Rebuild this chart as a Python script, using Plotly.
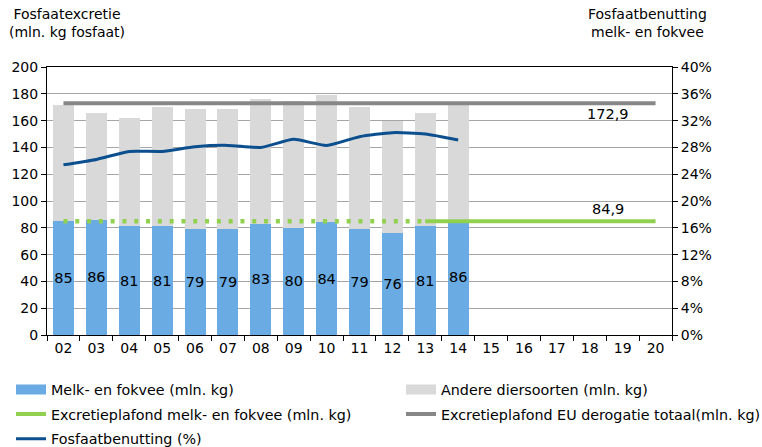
import plotly.graph_objects as go

years = ["02", "03", "04", "05", "06", "07", "08", "09", "10", "11",
         "12", "13", "14", "15", "16", "17", "18", "19", "20"]
data_years = years[:13]
melk_fokvee = [85, 86, 81, 81, 79, 79, 83, 80, 84, 79, 76, 81, 86]
totaal = [172, 166, 162, 170, 169, 169, 176, 175, 179, 170, 160, 166, 172]
andere = [t - m for t, m in zip(totaal, melk_fokvee)]
benutting = [0.254, 0.262, 0.274, 0.274, 0.281, 0.283, 0.280, 0.292,
             0.283, 0.296, 0.302, 0.300, 0.291]
plafond_melk = 84.9
plafond_eu = 172.9
plafond_dotted_until = "13"

C_BLUE = "#6aabe3"
C_LGRAY = "#d9d9d9"
C_GREEN = "#92d050"
C_DGRAY = "#878787"
C_NAVY = "#0b4f8f"
FONT = "DejaVu Sans"

fig = go.Figure()

# bars
fig.add_trace(go.Bar(
    x=data_years, y=melk_fokvee, marker_color=C_BLUE, marker_line_width=0,
    text=[str(v) for v in melk_fokvee], textposition="inside",
    insidetextanchor="middle", textangle=0, constraintext="none",
    textfont=dict(color="black", size=14.5, family=FONT),
    showlegend=False, hoverinfo="skip"))
fig.add_trace(go.Bar(
    x=data_years, y=andere, marker_color=C_LGRAY, marker_line_width=0,
    showlegend=False, hoverinfo="skip"))

# EU ceiling line
fig.add_trace(go.Scatter(
    x=years, y=[plafond_eu] * len(years), mode="lines",
    line=dict(color=C_DGRAY, width=4), showlegend=False))

# melk- en fokvee ceiling: dotted part then solid part
cut = years.index(plafond_dotted_until)
fig.add_trace(go.Scatter(
    x=years[:cut + 1], y=[plafond_melk] * (cut + 1), mode="lines",
    line=dict(color=C_GREEN, width=4.5, dash="4px,7.8px"), showlegend=False))
fig.add_trace(go.Scatter(
    x=years[cut:], y=[plafond_melk] * (len(years) - cut), mode="lines",
    line=dict(color=C_GREEN, width=4), showlegend=False))

# benutting line on right axis
fig.add_trace(go.Scatter(
    x=data_years, y=benutting, mode="lines", yaxis="y2",
    line=dict(color=C_NAVY, width=3, shape="spline", smoothing=0.6),
    showlegend=False))

# legend entries
def proxy(name, color, width, legend, group):
    fig.add_trace(go.Scatter(
        x=[None], y=[None], mode="lines", name=name,
        line=dict(color=color, width=width), legend=legend,
        legendgroup=group, showlegend=True))

proxy("Melk- en fokvee (mln. kg)", C_BLUE, 10, "legend", "a")
proxy("Excretieplafond melk- en fokvee (mln. kg)", C_GREEN, 4, "legend", "b")
proxy("Fosfaatbenutting (%)", C_NAVY, 3, "legend", "c")
proxy("Andere diersoorten (mln. kg)", C_LGRAY, 10, "legend2", "d")
proxy("Excretieplafond EU derogatie totaal(mln. kg)", C_DGRAY, 4, "legend2", "e")

legend_common = dict(orientation="v", yanchor="top", xanchor="left",
                     traceorder="grouped", tracegroupgap=3,
                     font=dict(family=FONT, size=14.3, color="black"),
                     bgcolor="rgba(0,0,0,0)", itemclick=False,
                     itemdoubleclick=False)

fig.update_layout(
    width=762, height=447,
    margin=dict(l=47, r=90, t=67, b=112, autoexpand=False),
    paper_bgcolor="white", plot_bgcolor="white",
    barmode="stack", bargap=0.36,
    font=dict(family=FONT, size=14, color="black"),
    xaxis=dict(type="category", categoryorder="array", categoryarray=years,
               range=[-0.5, len(years) - 0.5],
               tickson="boundaries", ticks="outside", ticklen=5,
               tickcolor="black", showline=True, linecolor="black",
               linewidth=1, mirror=True, showgrid=False,
               tickfont=dict(size=14)),
    yaxis=dict(range=[0, 200], dtick=20, ticks="outside", ticklen=5,
               tickcolor="black", showline=True, linecolor="black",
               linewidth=1, showgrid=True, gridcolor="#a6a6a6",
               gridwidth=1, zeroline=False, tickfont=dict(size=14)),
    yaxis2=dict(range=[0, 0.4], dtick=0.04, tickformat=".0%",
                overlaying="y", side="right", ticks="outside", ticklen=5,
                tickcolor="black", showline=True, linecolor="black",
                linewidth=1, showgrid=False, zeroline=False,
                tickfont=dict(size=14)),
    legend=dict(x=-0.0576, y=-0.1445, **legend_common),
    legend2=dict(x=0.5664, y=-0.1445, **legend_common),
    annotations=[
        dict(text="Fosfaatexcretie<br>(mln. kg fosfaat)", xref="paper",
             yref="paper", x=0.032, y=1.235, xanchor="center",
             yanchor="top", showarrow=False, align="center",
             font=dict(size=14)),
        dict(text="Fosfaatbenutting<br>melk- en fokvee", xref="paper",
             yref="paper", x=0.96, y=1.235, xanchor="center",
             yanchor="top", showarrow=False, align="center",
             font=dict(size=14)),
        dict(text=f"{plafond_eu}".replace(".", ","), xref="x", yref="y",
             x=16.55, y=plafond_eu, yshift=-11, showarrow=False,
             font=dict(size=14.5)),
        dict(text=f"{plafond_melk}".replace(".", ","), xref="x", yref="y",
             x=16.55, y=plafond_melk, yshift=12, showarrow=False,
             font=dict(size=14.5)),
    ],
)

fig.write_html("out.html", config={"displayModeBar": False},
               post_script="document.body.style.margin='0px';")
